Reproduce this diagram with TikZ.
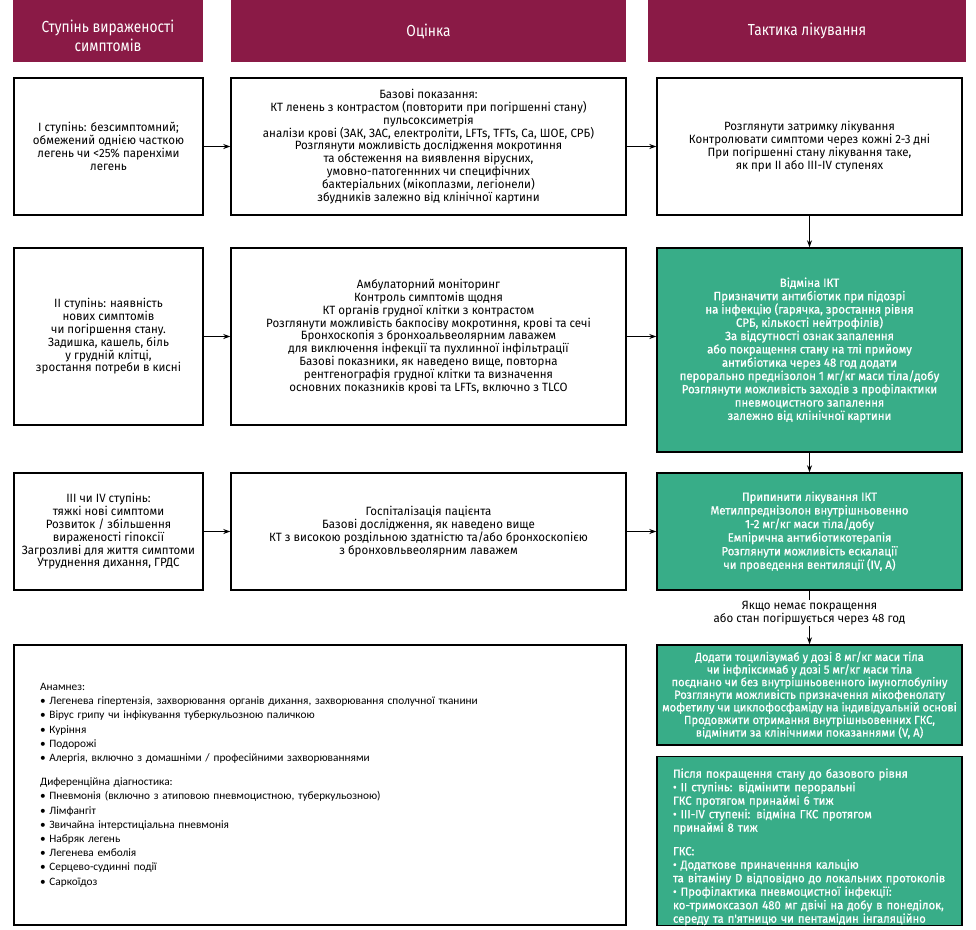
\documentclass[tikz,border=0pt]{standalone}
\usepackage{fontspec}
\setmainfont{Fira Sans}
\newfontfamily\cf[FakeStretch=0.96]{Fira Sans}
\newfontfamily\gf[FakeStretch=0.95,FakeBold=0.8]{Fira Sans}
\newfontfamily\hf[FakeStretch=0.86]{Fira Sans}
\newfontfamily\lf{Carlito}
\usetikzlibrary{arrows.meta}
\definecolor{hdrred}{HTML}{8A1A46}
\definecolor{tgreen}{HTML}{38AD88}
\tikzset{
  hdr/.style={fill=hdrred, text=white, font=\hf\fontsize{16}{19}\selectfont, align=center, inner sep=0pt},
  wbox/.style={draw=black, line width=1.4pt, fill=white, font=\cf\fontsize{12}{12.8}\selectfont, align=center, inner sep=0pt},
  gbox/.style={draw=black, line width=1.4pt, fill=tgreen, text=white, font=\gf\fontsize{12}{13.3}\selectfont, align=center, inner sep=0pt},
  gleft/.style={draw=black, line width=1.4pt, fill=tgreen, text=white, font=\gf\fontsize{11.9}{13.5}\selectfont, align=left, inner xsep=16pt, inner ysep=0pt},
  lbox/.style={draw=black, line width=1.4pt, fill=white, font=\lf\fontsize{11.3}{14.2}\selectfont, align=left, inner xsep=26pt, inner ysep=0pt},
  lbl/.style={font=\cf\fontsize{12}{13}\selectfont, align=center, inner sep=1pt},
  arr/.style={-{Stealth[length=7pt,width=5pt]}, line width=1pt}
}
\begin{document}
\begin{tikzpicture}[x=1pt,y=-1pt]
\useasboundingbox[fill=white] (0,0) rectangle (976,929);
% headers
\node[hdr, minimum width=190pt, minimum height=62pt] (h1) at (108,31) {\rule{0pt}{23pt}Ступінь вираженості\\симптомів};
\node[hdr, minimum width=395pt, minimum height=62pt] (h2) at (428.5,31) {Оцінка};
\node[hdr, minimum width=318pt, minimum height=62pt] (h3) at (807,31) {Тактика лікування};
% row 1
\node[wbox, minimum width=189pt, minimum height=137pt] (r1l) at (108.5,146.5) {І ступінь: безсимптомний;\\обмежений однією часткою\\легень чи <25\% паренхіми\\легень};
\node[wbox, minimum width=395pt, minimum height=137pt] (r1m) at (428.5,146.5) {Базові показання:\\КТ ленень з контрастом (повторити при погіршенні стану)\\пульсоксиметрія\\аналізи крові (ЗАК, ЗАС, електроліти, LFTs, TFTs, Ca, ШОЕ, СРБ)\\Розглянути можливість дослідження мокротиння\\та обстеження на виявлення вірусних,\\умовно-патогеннних чи специфічних\\бактеріальних (мікоплазми, легіонели)\\збудників залежно від клінічної картини};
\node[wbox, minimum width=305pt, minimum height=137pt] (r1r) at (809.5,146.5) {Розглянути затримку лікування\\Контролювати симптоми через кожні 2-3 дні\\При погіршенні стану лікування таке,\\як при II або III-IV ступенях};
% row 2
\node[wbox, minimum width=189pt, minimum height=177pt] (r2l) at (108.5,336.5) {II ступінь: наявність\\нових симптомів\\чи погіршення стану.\\Задишка, кашель, біль\\у грудній клітці,\\зростання потреби в кисні};
\node[wbox, minimum width=395pt, minimum height=177pt] (r2m) at (428.5,336.5) {Амбулаторний моніторинг\\Контроль симптомів щодня\\КТ органів грудної клітки з контрастом\\Розглянути можливість бакпосіву мокротиння, крові та сечі\\Бронхоскопія з бронхоальвеолярним лаважем\\для виключення інфекції та пухлинної інфільтрації\\Базові показники, як наведено вище, повторна\\рентгенографія грудної клітки та визначення\\основних показників крові та LFTs, включно з TLCO};
\node[gbox, minimum width=305pt, minimum height=204pt] (r2r) at (809.5,350) {Відміна ІКТ\\Призначити антибіотик при підозрі\\на інфекцію (гарячка, зростання рівня\\СРБ, кількості нейтрофілів)\\За відсутності ознак запалення\\або покращення стану на тлі прийому\\антибіотика через 48 год додати\\перорально преднізолон 1 мг/кг маси тіла/добу\\Розглянути можливість заходів з профілактики\\пневмоцистного запалення\\залежно від клінічної картини};
% row 3
\node[wbox, minimum width=189pt, minimum height=117pt] (r3l) at (108.5,531.5) {III чи IV ступінь:\\тяжкі нові симптоми\\Розвиток / збільшення\\вираженості гіпоксії\\Загрозливі для життя симптоми\\Утруднення дихання, ГРДС};
\node[wbox, minimum width=395pt, minimum height=117pt] (r3m) at (428.5,531.5) {Госпіталізація пацієнта\\Базові дослідження, як наведено вище\\КТ з високою роздільною здатністю та/або бронхоскопією\\з бронховльвеолярним лаважем};
\node[gbox, minimum width=305pt, minimum height=117pt, font=\gf\fontsize{11.9}{13.6}\selectfont] (r3r) at (809.5,531.5) {Припинити лікування ІКТ\\Метилпреднізолон внутрішньовенно\\1-2 мг/кг маси тіла/добу\\Емпірична антибіотикотерапія\\Розглянути можливість ескалації\\чи проведення вентиляції (IV, A)};
% label
\node[lbl] (lab) at (809.5,613) {Якщо немає покращення\\або стан погіршується через 48 год};
% row 4
\node[gbox, minimum width=305pt, minimum height=100pt, font=\gf\fontsize{11.7}{12.6}\selectfont] (g4) at (809.5,695) {Додати тоцилізумаб у дозі 8 мг/кг маси тіла\\чи інфліксимаб у дозі 5 мг/кг маси тіла\\поєднано чи без внутрішньовенного імуноглобуліну\\Розглянути можливість призначення мікофенолату\\мофетилу чи циклофосфаміду на індивідуальній основі\\Продовжити отримання внутрішньовенних ГКС,\\відмінити за клінічними показаннями (V, A)};
\node[gleft, text width=273pt, minimum height=168pt] (g5) at (809.5,841) {\rule{0pt}{21pt}Після покращення стану до базового рівня\\• II ступінь: відмінити пероральні\\ГКС протягом принаймі 6 тиж\\• III-IV ступені: відміна ГКС протягом\\принаймі 8 тиж\\[10pt]ГКС:\\• Додаткове приначенння кальцію\\та вітаміну D відповідно до локальних протоколів\\• Профілактика пневмоцистної інфекції:\\ко-тримоксазол 480 мг двічі на добу в понеділок,\\середу та п'ятницю чи пентамідин інгаляційно};
\node[lbox, text width=560pt, minimum height=280pt] (bl) at (320,785) {Анамнез:\\• Легенева гіпертензія, захворювання органів дихання, захворювання сполучної тканини\\• Вірус грипу чи інфікування туберкульозною паличкою\\• Куріння\\• Подорожі\\• Алергія, включно з домашніми / професійними захворюваннями\\[10pt]Диференційна діагностика:\\• Пневмонія (включно з атиповою пневмоцистною, туберкульозною)\\• Лімфангіт\\• Звичайна інтерстиціальна пневмонія\\• Набряк легень\\• Легенева емболія\\• Серцево-судинні події\\• Саркоїдоз};
% arrows
\draw[arr] (r1l.east) -- (r1m.west);
\draw[arr] (r1m.east) -- (r1r.west);
\draw[arr] (r2l.east) -- (r2m.west);
\draw[arr] (r2m.east) -- (r2m.east -| r2r.west);
\draw[arr] (r3l.east) -- (r3m.west);
\draw[arr] (r3m.east) -- (r3r.west);
\draw[arr] (r1r.south) -- (r2r.north);
\draw[arr] (r2r.south) -- (r3r.north);
\draw[line width=1pt] (r3r.south) -- (lab.north);
\draw[arr] (lab.south) -- (g4.north);
\end{tikzpicture}
\end{document}
